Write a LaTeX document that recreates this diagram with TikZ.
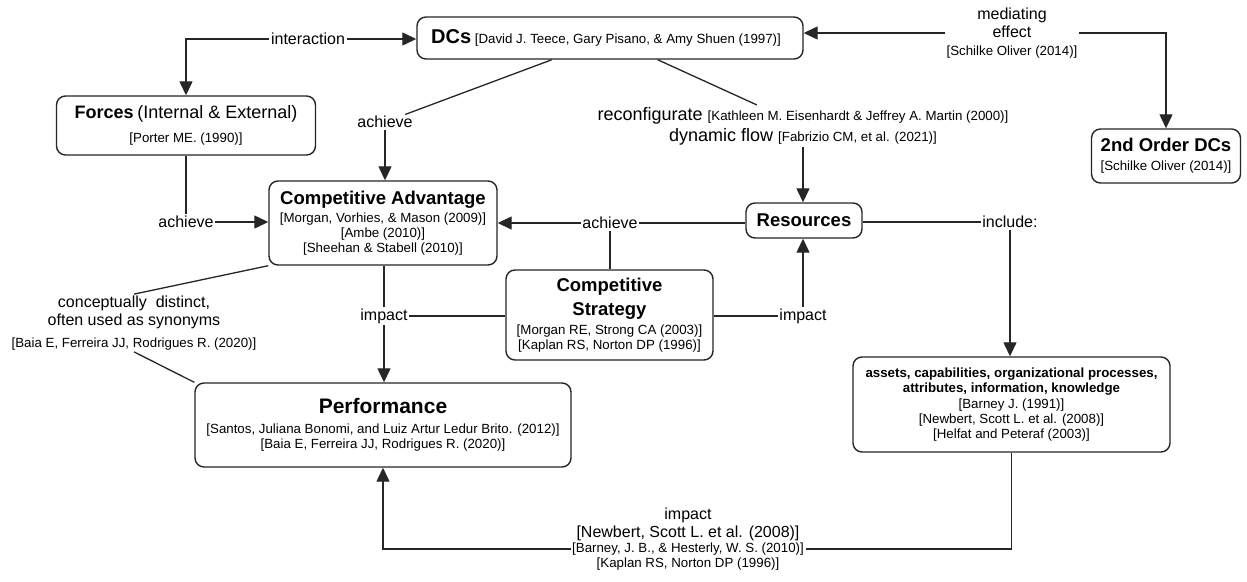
\documentclass[tikz,border=0pt]{standalone}
\usepackage{fontspec}
\setmainfont{Liberation Sans}
\usetikzlibrary{arrows.meta}
\newcommand\refsz{\fontsize{13.3}{15}\selectfont}
\newcommand\labsz{\fontsize{16}{18}\selectfont}
\newcommand\midsz{\fontsize{18}{21}\selectfont}
\newcommand\ttlsz{\fontsize{18.5}{21}\selectfont\bfseries}

\begin{document}
\begin{tikzpicture}[x=1pt,y=-1pt,
  box/.style={draw=black!85, line width=1.4pt, rounded corners=9pt, fill=white,
              align=center, inner sep=2pt, font=\refsz},
  lab/.style={align=center, inner sep=1.5pt, font=\labsz},
  conn/.style={draw=black!85, line width=1.3pt},
  arr/.style={conn, -{Triangle[length=14pt,width=13pt]}},
]
\fill[white] (0,0) rectangle (1247,581);
\useasboundingbox (0,0) rectangle (1247,581);

% ---- concept boxes ----
\node[box, minimum width=386pt, minimum height=42pt] (dcs) at (610,38)
  {{\fontsize{20}{22}\selectfont\bfseries DCs} {[David J. Teece, Gary Pisano, \& Amy Shuen (1997)]}\hspace{8pt}};
\node[box, minimum width=259pt, minimum height=59pt] (forces) at (186,125.5)
  {{\midsz\bfseries Forces} {\midsz (Internal \& External)}\\[9pt]{[Porter ME. (1990)]}};
\node[box, minimum width=228pt, minimum height=84pt] (ca) at (383,223)
  {{\ttlsz Competitive Advantage}\\[3pt]{[Morgan, Vorhies, \& Mason (2009)]}\\{[Ambe (2010)]}\\{[Sheehan \& Stabell (2010)]}};
\node[box, minimum width=207pt, minimum height=90pt] (cs) at (609.5,315)
  {{\ttlsz Competitive}\\[6pt]{\ttlsz Strategy}\\[4pt]{[Morgan RE, Strong CA (2003)]}\\{[Kaplan RS, Norton DP (1996)]}};
\node[box, minimum width=116pt, minimum height=35pt] (res) at (804,220.5)
  {\ttlsz Resources};
\node[box, minimum width=376pt, minimum height=84pt] (perf) at (383,425)
  {{\fontsize{21}{24}\selectfont\bfseries Performance}\\[5pt]{[Santos, Juliana Bonomi, and Luiz Artur Ledur Brito. (2012)]}\\{[Baia E, Ferreira JJ, Rodrigues R. (2020)]}};
\node[box, minimum width=317pt, minimum height=95pt] (assets) at (1011.5,404.5)
  {{\bfseries assets, capabilities, organizational processes,}\\{\bfseries attributes, information, knowledge}\\[1pt]{[Barney J. (1991)]}\\{[Newbert, Scott L. et al. (2008)]}\\{[Helfat and Peteraf (2003)]}};
\node[box, minimum width=149pt, minimum height=54pt] (second) at (1166,156)
  {{\ttlsz 2nd Order DCs}\\[4pt]{[Schilke Oliver (2014)]}};

% ---- connector labels ----
\node[lab] (intr) at (308,39) {interaction};
\node[lab] (achA) at (385,122) {achieve};
\node[lab] (achF) at (186,222) {achieve};
\node[lab] (achR) at (610,223) {achieve};
\node[lab, font=\midsz, inner sep=2pt] (reconf) at (803,126)
  {reconfigurate {\refsz [Kathleen M. Eisenhardt \& Jeffrey A. Martin (2000)]}\\dynamic flow {\refsz [Fabrizio CM, et al. (2021)]}};
\node[lab] (med) at (1012,33)
  {mediating\\effect\\{\refsz [Schilke Oliver (2014)]}};
\node[lab] (concept) at (134,323)
  {conceptually\ \ distinct,\\often used as synonyms\\[4pt]{\refsz [Baia E, Ferreira JJ, Rodrigues R. (2020)]}};
\node[lab] (impA) at (384,316) {impact};
\node[lab] (impR) at (803,316) {impact};
\node[lab] (incl) at (1010,222) {include:};
\node[lab, font=\refsz] (bref) at (688,549) {[Barney, J. B., \& Hesterly, W. S. (2010)]};
\node[lab, anchor=south, inner sep=0.5pt] (bimp) at (bref.north) {impact\\{[Newbert, Scott L. et al. (2008)]}};
\node[lab, font=\refsz, anchor=north, inner sep=0.5pt] (bkap) at (bref.south) {[Kaplan RS, Norton DP (1996)]};

% ---- connectors ----
\draw[arr] (intr.east) -- (intr.east -| dcs.west);
\draw[arr] (intr.west) -| (forces.north);
\draw[conn] (dcs) -- (achA);
\draw[arr] (achA.south) -- (achA.south |- ca.north);
\draw[conn] (forces.south) -- (achF.north);
\draw[arr] (achF.east) -- (achF.east -| ca.west);
\draw[conn] (achR.east) -- (achR.east -| res.west);
\draw[arr] (achR.west) -- (achR.west -| ca.east);
\draw[conn] (achR.south) -- (achR.south |- cs.north);
\draw[conn] (dcs) -- (reconf);
\draw[arr] (reconf.south) -- (reconf.south |- res.north);
\draw[arr] (med.west) -- (med.west -| dcs.east);
\draw[arr] (med.east) -| (second.north);
\draw[conn] (impA.north |- ca.south) -- (impA.north);
\draw[arr] (impA.south) -- (impA.south |- perf.north);
\draw[conn] (impA.east) -- (impA.east -| cs.west);
\draw[conn] (impR.west -| cs.east) -- (impR.west);
\draw[arr] (impR.north) -- (impR.north |- res.south);
\draw[conn] (incl.west -| res.east) -- (incl.west);
\draw[arr] (incl.south) -- (incl.south |- assets.north);
\draw[conn] (ca.south west) -- (concept.north);
\draw[conn] (concept.south) -- (perf.north west);
\draw[conn] (assets.south) |- (bref.east);
\draw[arr] (bref.west) -| (perf.south);
\end{tikzpicture}
\end{document}
